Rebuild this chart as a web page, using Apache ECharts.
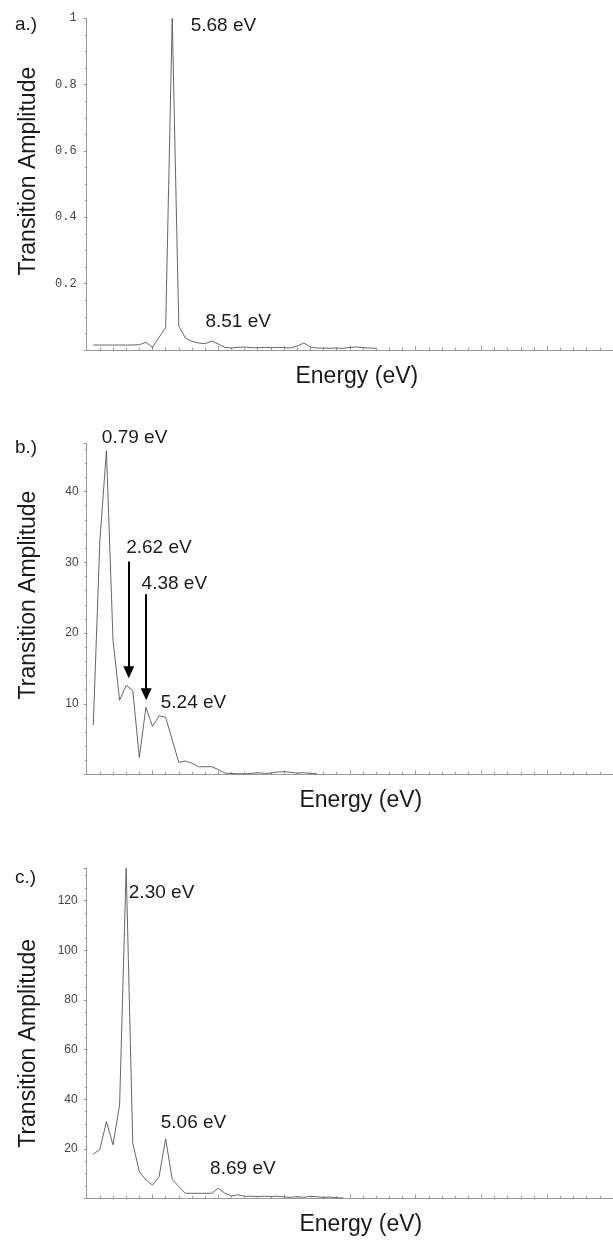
<!DOCTYPE html>
<html><head><meta charset="utf-8">
<script src="https://cdn.jsdelivr.net/npm/echarts@6/dist/echarts.min.js"></script>
<style>html,body{margin:0;padding:0;background:#fff}#c{width:613px;height:1241px}</style>
</head><body><div id="c"></div>
<script>
// sample positions along the (unlabelled) energy axis, in axis tick units
const steps = [0.5,1,1.5,2,2.5,3,3.5,4,4.5,5,5.5,6,6.5,7,7.5,8,8.5,9,9.5,10,10.5,11,11.5,12,12.5,13,13.5,14,14.5,15,15.5,16,16.5,17,17.5,18,18.5,19,19.5,20,20.5,21,21.5,22];

const ampA = [0.015,0.015,0.015,0.015,0.015,0.015,0.015,0.016,0.023,0.008,0.038,0.068,1.0,0.072,0.036,0.026,0.021,0.019,0.027,0.018,0.008,0.006,0.008,0.009,0.007,0.007,0.008,0.007,0.008,0.007,0.006,0.012,0.021,0.009,0.006,0.006,0.005,0.006,0.005,0.008,0.009,0.007,0.006,0.005];
const ampB = [7.0,33.0,45.8,19.0,10.5,12.6,11.9,2.4,9.5,6.8,8.3,8.1,4.9,1.7,1.9,1.6,1.1,1.1,1.1,0.7,0.2,0.15,0.1,0.1,0.15,0.25,0.15,0.2,0.35,0.4,0.3,0.2,0.25,0.15,0.1];
const ampC = [17.8,19.8,31.0,21.6,37.7,133,22.3,10.8,7.5,5.4,8.8,24.0,7.7,4.8,2.1,2.1,2.1,2.1,2.1,4.1,2.1,1.0,1.5,0.9,0.9,0.8,0.9,0.8,0.9,0.6,0.5,0.7,0.5,0.9,0.7,0.4,0.6,0.3,0.2];

const panelLetters = ['a.)','b.)','c.)'];
const yMax = [1, 46.8, 133];
const yInterval = [0.2, 10, 20];
const yMinorSplit = [4, 5, 4];

// peak annotations: [text, x, y]
const peaksA = [['5.68 eV', 7.9, 0.977], ['8.51 eV', 9.02, 0.086]];
const peaksB = [['0.79 eV', 1.15, 46.0], ['2.62 eV', 3.0, 32.0], ['4.38 eV', 4.17, 26.9], ['5.24 eV', 5.63, 10.1]];
const peaksC = [['2.30 eV', 3.2, 123.1], ['5.06 eV', 5.63, 30.4], ['8.69 eV', 9.38, 12.0]];
// arrows in panel b: [x, yStart, yEnd]
const arrowsB = [[3.2, 30.1, 14.45], [4.52, 25.5, 11.35]];

const TXT = '#1a1a1a', AX = '#9a9a9a', LINE = '#555';
const grids = [
  {left: 86.7, top: 18.3, width: 533.3, height: 331.7},
  {left: 86.7, top: 443.5, width: 533.3, height: 331},
  {left: 86.7, top: 868.3, width: 533.3, height: 330.2}
];

function xAxisFor(i, padLeft) {
  return {
    type: 'value', gridIndex: i, min: 0, max: 40, interval: 5,
    axisLine: {show: true, onZero: false, lineStyle: {color: AX, width: 1}},
    axisTick: {show: true, inside: true, length: 4, lineStyle: {color: AX}},
    minorTick: {show: true, splitNumber: 5, length: 2.5, lineStyle: {color: AX}},
    axisLabel: {show: false}, splitLine: {show: false}, minorSplitLine: {show: false},
    name: 'Energy (eV)', nameLocation: 'middle', nameGap: 15,
    nameTextStyle: {fontFamily: 'Liberation Sans', fontSize: 23, color: TXT, padding: [0, 0, 0, padLeft]}
  };
}
function yAxisFor(i, font, margin, pad) {
  const iv = yInterval[i];
  return {
    type: 'value', gridIndex: i, min: 0, max: yMax[i], interval: iv,
    axisLine: {show: true, onZero: false, lineStyle: {color: AX, width: 1}},
    axisTick: {show: true, length: 3, lineStyle: {color: AX}},
    minorTick: {show: true, splitNumber: yMinorSplit[i], length: 2, lineStyle: {color: AX}},
    splitLine: {show: false}, minorSplitLine: {show: false},
    axisLabel: {
      margin: margin, fontFamily: font, fontSize: 12, color: '#444',
      formatter: function (v) {
        if (v === 0) return '';
        const k = v / iv;
        if (Math.abs(k - Math.round(k)) > 1e-6) return '';
        return String(Math.round(v * 100) / 100);
      }
    },
    name: 'Transition Amplitude', nameLocation: 'middle', nameGap: 47, nameRotate: 90,
    nameTextStyle: {fontFamily: 'Liberation Sans', fontSize: 23, color: TXT, padding: pad}
  };
}
function mp(list, extra) {
  return {
    symbol: 'circle', symbolSize: 0, silent: true, animation: false,
    label: {show: true, position: 'right', distance: 0, formatter: '{b}', fontFamily: 'Liberation Sans', fontSize: 19, color: TXT},
    data: list.map(function (p, k) {
      const d = {name: p[0], coord: [p[1], p[2]]};
      if (extra && extra[k]) d.label = extra[k];
      return d;
    })
  };
}
function series(i, vals, peaks, extra) {
  return {
    type: 'line', xAxisIndex: i, yAxisIndex: i, showSymbol: false, symbol: 'none',
    animation: false, silent: true,
    lineStyle: {color: LINE, width: 0.9},
    data: vals.map(function (v, k) { return [steps[k], v]; }),
    markPoint: mp(peaks, extra)
  };
}

const chart = echarts.init(document.getElementById('c'), null, {renderer: 'canvas'});
const sB = series(1, ampB, peaksB, {0: {offset: [0, -11]}});
sB.markLine = {
  symbol: ['none', 'triangle'], symbolSize: [11, 12], silent: true, animation: false,
  label: {show: false},
  lineStyle: {color: '#000', width: 2, type: 'solid'},
  data: arrowsB.map(function (a) { return [{coord: [a[0], a[1]]}, {coord: [a[0], a[2]]}]; })
};
chart.setOption({
  backgroundColor: '#fff',
  animation: false,
  title: panelLetters.map(function (t, i) {
    return {text: t, left: 15, top: [15, 438, 868][i], padding: 0,
      textStyle: {fontFamily: 'Liberation Sans', fontSize: 19, fontWeight: 'normal', color: TXT}};
  }),
  grid: grids,
  xAxis: [xAxisFor(0, 14), xAxisFor(1, 22), xAxisFor(2, 22)],
  yAxis: [
    yAxisFor(0, 'Liberation Mono', 10, [0, 0, 0, 26]),
    yAxisFor(1, 'Liberation Sans', 8, [0, 0, 0, 28]),
    yAxisFor(2, 'Liberation Sans', 9, [0, 20, 0, 0])
  ],
  series: [series(0, ampA, peaksA), sB, series(2, ampC, peaksC)]
});
</script>
</body></html>
